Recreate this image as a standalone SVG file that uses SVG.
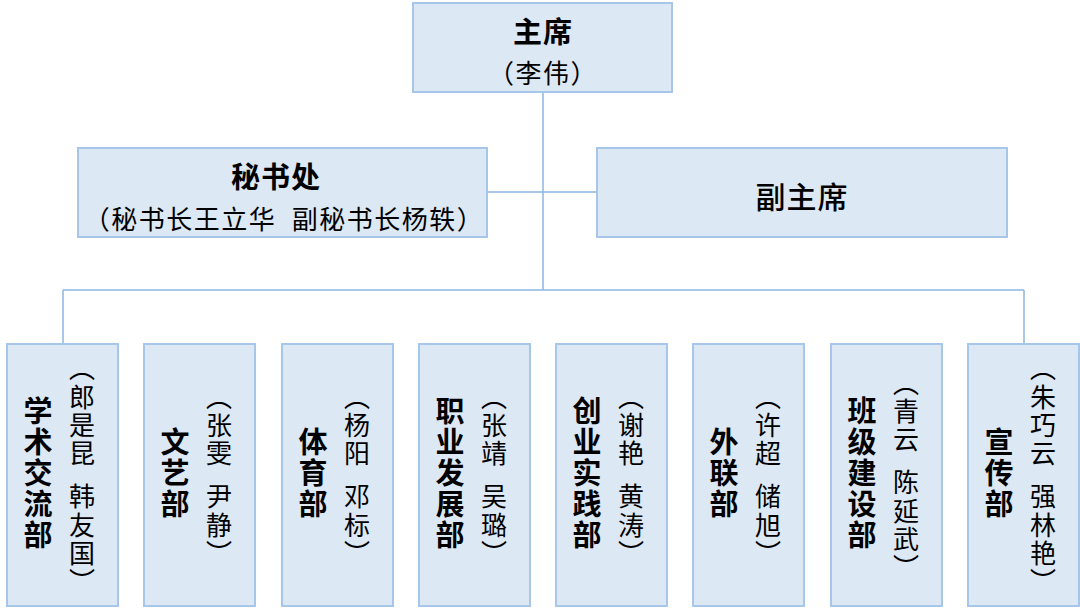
<svg xmlns="http://www.w3.org/2000/svg" width="1080" height="611" viewBox="0 0 1080 611">
<style>
.box{fill:#dde8f5;stroke:#a7c7ea;stroke-width:2}
.ln{stroke:#8db4e2;stroke-width:1.5;fill:none}
text{font-family:"Noto Sans CJK SC","Noto Sans",sans-serif;fill:#000;dominant-baseline:central;text-anchor:middle}
.t{font-size:29px;font-weight:bold;letter-spacing:1px}
.s{font-size:26px;letter-spacing:1.5px}
.vb{font-size:29px;font-weight:bold;writing-mode:vertical-rl;letter-spacing:2px}
.vn{font-size:26px;writing-mode:vertical-rl;letter-spacing:2.2px}
.sp{font-size:13px}
</style>
<rect width="1080" height="611" fill="#fff"/>
<g id="connectors">
<line class="ln" x1="543" y1="92" x2="543" y2="290"/>
<line class="ln" x1="487" y1="192" x2="597" y2="192"/>
<line class="ln" x1="63" y1="290" x2="1024" y2="290"/>
<line class="ln" x1="63" y1="290" x2="63" y2="344"/>
<line class="ln" x1="1024" y1="290" x2="1024" y2="344"/>
</g>
<g id="chair"><rect class="box" x="413" y="3" width="259" height="89"/><text class="t" x="543" y="30">主席</text><text class="s" x="543" y="71">（李伟）</text></g>
<g id="secretary"><rect class="box" x="78" y="148" width="409" height="89"/><text class="t" x="276" y="175">秘书处</text><text class="s" x="284" y="217">（秘书长王立华<tspan style="font-size:14px">　</tspan>副秘书长杨轶）</text></g>
<g id="vice"><rect class="box" x="597" y="148" width="410" height="89"/><text x="802" y="195" style="font-size:30px;font-weight:500;letter-spacing:1px">副主席</text></g>
<g id="d1"><rect class="box" x="7" y="344" width="111" height="262"/><text class="vb" x="38" y="474">学术交流部</text><text class="vn" x="82" y="476">（郎是昆<tspan class="sp">　</tspan>韩友国）</text></g>
<g id="d2"><rect class="box" x="144" y="344" width="111" height="262"/><text class="vb" x="175" y="474">文艺部</text><text class="vn" x="219" y="476">（张雯<tspan class="sp">　</tspan>尹静）</text></g>
<g id="d3"><rect class="box" x="282" y="344" width="111" height="262"/><text class="vb" x="313" y="474">体育部</text><text class="vn" x="357" y="476">（杨阳<tspan class="sp">　</tspan>邓标）</text></g>
<g id="d4"><rect class="box" x="419" y="344" width="111" height="262"/><text class="vb" x="450" y="474">职业发展部</text><text class="vn" x="494" y="476">（张靖<tspan class="sp">　</tspan>吴璐）</text></g>
<g id="d5"><rect class="box" x="556" y="344" width="111" height="262"/><text class="vb" x="587" y="474">创业实践部</text><text class="vn" x="631" y="476">（谢艳<tspan class="sp">　</tspan>黄涛）</text></g>
<g id="d6"><rect class="box" x="693" y="344" width="111" height="262"/><text class="vb" x="724" y="474">外联部</text><text class="vn" x="768" y="476">（许超<tspan class="sp">　</tspan>储旭）</text></g>
<g id="d7"><rect class="box" x="831" y="344" width="111" height="262"/><text class="vb" x="862" y="474">班级建设部</text><text class="vn" x="906" y="476">（青云<tspan class="sp">　</tspan>陈延武）</text></g>
<g id="d8"><rect class="box" x="968" y="344" width="111" height="262"/><text class="vb" x="999" y="474">宣传部</text><text class="vn" x="1043" y="476">（朱巧云<tspan class="sp">　</tspan>强林艳）</text></g>
</svg>
